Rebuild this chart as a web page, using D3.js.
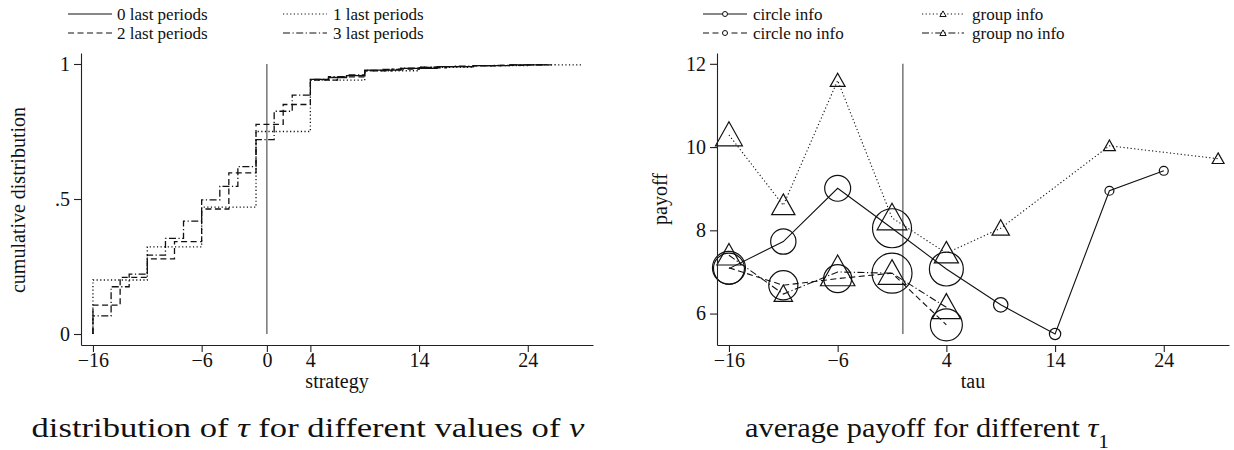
<!DOCTYPE html>
<html>
<head>
<meta charset="utf-8">
<script src="https://cdn.jsdelivr.net/npm/d3@7"></script>
<style>
  body { margin: 0; background: #fff; }
  text { font-family: "Liberation Serif", "Times New Roman", serif; fill: #111; }
</style>
</head>
<body>
<svg id="chart" width="1234" height="450"></svg>
<script>
// ---- left panel: cumulative distribution of strategy, by number of last periods ----
const lagLabels = ["0 last periods", "1 last periods", "2 last periods", "3 last periods"]
// step points (strategy, cumulative share)
const lag0X = [4, 5.67, 7.33, 9, 12.33, 15.67, 19, 22.33, 25.67]
const lag0P = [0.943, 0.95, 0.957, 0.977, 0.984, 0.99, 0.994, 0.997, 1.0]
const lag1X = [-16, -16, -11, -6, -1, 4, 9, 14, 19, 24, 29]
const lag1P = [0, 0.2, 0.323, 0.47, 0.75, 0.94, 0.975, 0.988, 0.994, 0.997, 1.0]
const lag2X = [-16, -16, -13.5, -11, -8.5, -6, -3.5, -1, 1.5, 4, 6.5, 9, 11.5, 14, 16.5, 19, 21.5, 24, 26.5]
const lag2P = [0, 0.107, 0.21, 0.278, 0.342, 0.463, 0.597, 0.776, 0.85, 0.94, 0.952, 0.975, 0.981, 0.986, 0.99, 0.993, 0.995, 0.997, 1.0]
const lag3X = [-16, -16, -14.33, -12.67, -11, -9.33, -7.67, -6, -4.33, -2.67, -1, 0.67, 2.33, 4, 5.67, 7.33, 9, 10.67, 12.33, 14, 15.67, 17.33, 19, 20.67, 22.33, 24, 25.67]
const lag3P = [0, 0.067, 0.175, 0.222, 0.292, 0.354, 0.418, 0.497, 0.547, 0.62, 0.72, 0.825, 0.885, 0.943, 0.953, 0.96, 0.976, 0.98, 0.985, 0.988, 0.99, 0.992, 0.994, 0.995, 0.997, 0.998, 1.0]

const stratTicks = [-16, -6, 0, 4, 14, 24]
const stratTickLabels = ["\u221216", "\u22126", "0", "4", "14", "24"]
const cdfTicks = [0, 0.5, 1]
const cdfTickLabels = ["0", ".5", "1"]

// ---- right panel: average payoff by tau ----
const tauX = [-16, -11, -6, -1, 4, 9, 14, 19, 24, 29]
const payLabels = ["circle info", "circle no info", "group info", "group no info"]
const circleInfo = [7.08, 7.73, 9.01, 8.05, 7.07, 6.21, 5.51, 8.95, 9.43, null]
const circleInfoN = [60, 40, 42, 95, 72, 13, 8, 5, 5, null]
const circleNoInfo = [7.1, 6.68, 6.84, 6.97, 5.73, null, null, null, null, null]
const circleNoInfoN = [68, 53, 49, 100, 64, null, null, null, null, null]
const groupInfo = [10.29, 8.6, 11.6, 8.3, 7.45, 8.05, null, 10.03, null, 9.72]
const groupInfoN = [36, 27, 11, 44, 29, 15, null, 7, null, 7]
const groupNoInfo = [7.4, 6.47, 7.0, 6.97, 6.15, null, null, null, null, null]
const groupNoInfoN = [29, 17, 59, 38, 39, null, null, null, null, null]

const tauTicks = [-16, -6, 4, 14, 24]
const tauTickLabels = ["\u221216", "\u22126", "4", "14", "24"]
const payTicks = [6, 8, 10, 12]

const dashes = { solid: null, dot: "1.2,2.4", dash: "6,3.5", dashdot: "7,2.5,1.2,2.5" }

const svg = d3.select("#chart")
svg.append("rect").attr("width", 1234).attr("height", 450).attr("fill", "#fff")

const fs = 20     // tick labels and axis titles
const legFs = 17  // legend keys

function drawAxes(g, x, y, xt, xl, yt, yl) {
    g.append("g")
        .attr("transform", "translate(0," + y.range()[0] + ")")
        .call(d3.axisBottom(x).tickValues(xt).tickSize(7).tickSizeOuter(0).tickPadding(1)
            .tickFormat((d, i) => xl[i]))
    g.append("g")
        .attr("transform", "translate(" + x.range()[0] + ",0)")
        .call(d3.axisLeft(y).tickValues(yt).tickSize(7).tickSizeOuter(0).tickPadding(4)
            .tickFormat((d, i) => yl[i]))
    g.selectAll(".tick text").attr("font-family", null).style("font-size", fs + "px").attr("fill", "#111")
    g.selectAll(".domain, .tick line").attr("stroke", "#222").attr("stroke-width", 1.1)
}

// ===== left panel =====
const xL = d3.scaleLinear().domain([-17.1, 30]).range([81, 593])
const yL = d3.scaleLinear().domain([-0.0407, 1.0407]).range([345, 53])
const left = svg.append("g")

// vertical reference at 0
left.append("line")
    .attr("x1", xL(0)).attr("x2", xL(0))
    .attr("y1", yL(0)).attr("y2", yL(1))
    .attr("stroke", "#444").attr("stroke-width", 1.1)

const cdfSeries = [
    { xs: lag0X, ps: lag0P, dash: dashes.solid },
    { xs: lag1X, ps: lag1P, dash: dashes.dot },
    { xs: lag2X, ps: lag2P, dash: dashes.dash },
    { xs: lag3X, ps: lag3P, dash: dashes.dashdot }
]
const stepLine = d3.line().x(d => xL(d[0])).y(d => yL(d[1])).curve(d3.curveStepAfter)
cdfSeries.forEach(s => {
    left.append("path")
        .attr("d", stepLine(s.xs.map((v, i) => [v, s.ps[i]])))
        .attr("fill", "none").attr("stroke", "#111").attr("stroke-width", 1.3)
        .attr("stroke-dasharray", s.dash)
})

drawAxes(left, xL, yL, stratTicks, stratTickLabels, cdfTicks, cdfTickLabels)

left.append("text").attr("x", 337).attr("y", 388).attr("text-anchor", "middle")
    .style("font-size", fs + "px").text("strategy")
left.append("text").attr("transform", "translate(25,200) rotate(-90)").attr("text-anchor", "middle")
    .style("font-size", fs + "px").text("cumulative distribution")

// legend
const legL = [[68, 14], [283, 14], [68, 33], [283, 33]]
legL.forEach(([lx, ly], k) => {
    left.append("line").attr("x1", lx).attr("x2", lx + 44).attr("y1", ly).attr("y2", ly)
        .attr("stroke", "#111").attr("stroke-width", 1.2).attr("stroke-dasharray", cdfSeries[k].dash)
    left.append("text").attr("x", lx + (k % 2 ? 50 : 49)).attr("y", ly).attr("dy", "0.33em")
        .style("font-size", legFs + "px").text(lagLabels[k])
})

// ===== right panel =====
const xR = d3.scaleLinear().domain([-17.1, 30]).range([717, 1229])
const yR = d3.scaleLinear().domain([5.245, 12.26]).range([345, 53])
const right = svg.append("g")

const allPay = circleInfo.concat(circleNoInfo, groupInfo, groupNoInfo).filter(v => v != null)
right.append("line")
    .attr("x1", xR(0)).attr("x2", xR(0))
    .attr("y1", yR(d3.min(allPay))).attr("y2", yR(d3.max(payTicks)))
    .attr("stroke", "#444").attr("stroke-width", 1.1)

const size = d3.scaleSqrt().domain([0, 100]).range([0, 20])

const paySeries = [
    { ys: circleInfo, ns: circleInfoN, dash: dashes.solid, shape: "circle" },
    { ys: circleNoInfo, ns: circleNoInfoN, dash: dashes.dash, shape: "circle" },
    { ys: groupInfo, ns: groupInfoN, dash: dashes.dot, shape: "triangle" },
    { ys: groupNoInfo, ns: groupNoInfoN, dash: dashes.dashdot, shape: "triangle" }
]

function triangle(cx, cy, r) {
    // r = half height; point sits a little below mid height
    const h = 2 * r, w = h * 1.12
    const top = cy - 0.55 * h, bot = cy + 0.45 * h
    return "M" + cx + "," + top + "L" + (cx + w / 2) + "," + bot + "L" + (cx - w / 2) + "," + bot + "Z"
}

const payLine = d3.line().x(d => xR(d[0])).y(d => yR(d[1]))
paySeries.forEach(s => {
    const pts = tauX.map((t, i) => [t, s.ys[i], s.ns[i]]).filter(d => d[1] != null)
    right.append("path").attr("d", payLine(pts))
        .attr("fill", "none").attr("stroke", "#111").attr("stroke-width", 1.1)
        .attr("stroke-dasharray", s.dash)
    pts.forEach(d => {
        const r = size(d[2])
        if (s.shape === "circle") {
            right.append("circle").attr("cx", xR(d[0])).attr("cy", yR(d[1])).attr("r", r)
                .attr("fill", "none").attr("stroke", "#111").attr("stroke-width", 1.2)
        } else {
            right.append("path").attr("d", triangle(xR(d[0]), yR(d[1]), r))
                .attr("fill", "none").attr("stroke", "#111").attr("stroke-width", 1.2)
        }
    })
})

drawAxes(right, xR, yR, tauTicks, tauTickLabels, payTicks, payTicks.map(String))

right.append("text").attr("x", 973).attr("y", 388).attr("text-anchor", "middle")
    .style("font-size", fs + "px").text("tau")
right.append("text").attr("transform", "translate(667,199) rotate(-90)").attr("text-anchor", "middle")
    .style("font-size", fs + "px").text("payoff")

// legend: [x, y, line length, marker offset, text offset]
const legR = [[703, 14, 44, 22, 50], [922, 14, 42, 21, 50], [703, 33, 44, 22, 50], [922, 33, 42, 21, 50]]
const legROrder = [0, 2, 1, 3]
legROrder.forEach((k, i) => {
    const [lx, ly, len, mo, to] = legR[i]
    const s = paySeries[k]
    right.append("line").attr("x1", lx).attr("x2", lx + len).attr("y1", ly).attr("y2", ly)
        .attr("stroke", "#111").attr("stroke-width", 1.1).attr("stroke-dasharray", s.dash)
    if (s.shape === "circle") {
        right.append("circle").attr("cx", lx + mo).attr("cy", ly).attr("r", 2.5)
            .attr("fill", "#fff").attr("stroke", "#111").attr("stroke-width", 1)
    } else {
        right.append("path").attr("d", triangle(lx + mo, ly, 2.8))
            .attr("fill", "#fff").attr("stroke", "#111").attr("stroke-width", 1)
    }
    right.append("text").attr("x", lx + to).attr("y", ly).attr("dy", "0.33em")
        .style("font-size", legFs + "px").text(payLabels[k])
})

// ===== captions =====
const cap1 = svg.append("text").attr("x", 308).attr("y", 437).attr("text-anchor", "middle")
    .attr("textLength", 553).attr("lengthAdjust", "spacingAndGlyphs")
    .style("font-size", "27px")
cap1.append("tspan").text("distribution of ")
cap1.append("tspan").attr("font-style", "italic").text("\u03c4")
cap1.append("tspan").text(" for different values of ")
cap1.append("tspan").attr("font-style", "italic").text("\u03bd")

const cap2 = svg.append("text").attr("x", 927).attr("y", 437).attr("text-anchor", "middle")
    .attr("textLength", 364).attr("lengthAdjust", "spacingAndGlyphs")
    .style("font-size", "27px")
cap2.append("tspan").text("average payoff for different ")
cap2.append("tspan").attr("font-style", "italic").text("\u03c4")
cap2.append("tspan").attr("baseline-shift", "sub").style("font-size", "19px").text("1")
</script>
</body>
</html>
